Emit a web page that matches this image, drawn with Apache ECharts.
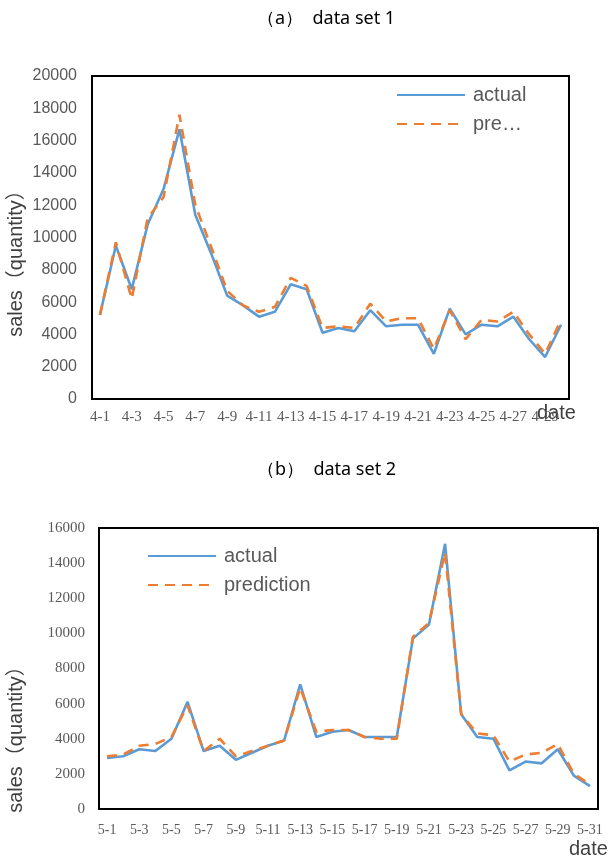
<!DOCTYPE html>
<html>
<head>
<meta charset="utf-8">
<script src="https://cdn.jsdelivr.net/npm/echarts@6/dist/echarts.min.js"></script>
<style>
  html, body { margin: 0; padding: 0; background: #fff; }
  #main { width: 616px; height: 856px; }
</style>
</head>
<body>
<div id="main"></div>
<script>
// data set 1 (April)
var daysA = [];
for (var i = 1; i <= 30; i++) daysA.push('4-' + i);
var actualA = [5200, 9500, 6800, 10800, 13000, 16700, 11400, 9000, 6400, 5800,
  5100, 5400, 7100, 6800, 4100, 4400, 4200, 5500, 4500, 4600,
  4600, 2800, 5600, 4000, 4600, 4500, 5100, 3700, 2600, 4600];
var predA = [5200, 9700, 6200, 11200, 12500, 17600, 12000, 9400, 6700, 5800,
  5400, 5700, 7500, 7000, 4400, 4500, 4400, 5900, 4800, 5000,
  5000, 3100, 5500, 3700, 4900, 4800, 5400, 4000, 2800, 4900];

// data set 2 (May)
var daysB = [];
for (var j = 1; j <= 31; j++) daysB.push('5-' + j);
var actualB = [2900, 3000, 3400, 3300, 4000, 6100, 3300, 3600, 2800, 3200,
  3600, 3900, 7100, 4100, 4400, 4500, 4100, 4100, 4100, 9700,
  10500, 15100, 5400, 4100, 4000, 2200, 2700, 2600, 3400, 1900, 1300];
var predB = [3000, 3100, 3600, 3700, 4100, 5900, 3300, 4000, 3000, 3300,
  3600, 3900, 6900, 4400, 4500, 4500, 4100, 4000, 4000, 9800,
  10600, 14600, 5400, 4300, 4200, 2700, 3100, 3200, 3700, 2000, 1400];

var blue = '#5B9BD5', orange = '#ED7D31', grey = '#595959';
var sans = 'Liberation Sans, Arial, Noto Sans CJK SC';
var serif = 'Liberation Serif, Times New Roman, serif';

var chart = echarts.init(document.getElementById('main'));

function lineSeries(name, data, idx, dashed) {
  return {
    name: name, type: 'line', data: data,
    xAxisIndex: idx, yAxisIndex: idx,
    symbol: 'none', smooth: false,
    lineStyle: { color: dashed ? orange : blue, width: 2.6, type: dashed ? [10, 7] : 'solid' },
    itemStyle: { color: dashed ? orange : blue },
    emphasis: { disabled: true }
  };
}

function plain(v) { return String(v); }

var option = {
  animation: false,
  title: [
    { text: '（a）  data set 1', left: 257, top: 10, padding: 0,
      textStyle: { fontSize: 18, fontWeight: 'normal', color: '#000', fontFamily: 'Noto Sans' } },
    { text: '（b）  data set 2', left: 257, top: 461, padding: 0,
      textStyle: { fontSize: 18, fontWeight: 'normal', color: '#000', fontFamily: 'Noto Sans' } }
  ],
  legend: [
    { data: ['actual', 'prediction'], orient: 'vertical', left: 396, top: 85, padding: 0,
      itemWidth: 68, itemHeight: 14, itemGap: 9, selectedMode: false,
      itemStyle: { opacity: 0 },
      textStyle: { fontSize: 20, color: grey, fontFamily: sans, width: 56, overflow: 'truncate', ellipsis: '…', padding: [0, 0, 0, 3] } },
    { data: ['actual', 'prediction'], orient: 'vertical', left: 147, top: 546, padding: 0,
      itemWidth: 68, itemHeight: 14, itemGap: 9, selectedMode: false,
      itemStyle: { opacity: 0 },
      textStyle: { fontSize: 20, color: grey, fontFamily: sans, padding: [0, 0, 0, 3] } }
  ],
  grid: [
    { left: 92, top: 76, width: 477, height: 323, outerBoundsMode: 'none', containLabel: false,
      show: true, borderColor: '#000', borderWidth: 2, backgroundColor: 'transparent' },
    { left: 99, top: 528, width: 499, height: 281, outerBoundsMode: 'none', containLabel: false,
      show: true, borderColor: '#000', borderWidth: 2, backgroundColor: 'transparent' }
  ],
  xAxis: [
    { type: 'category', gridIndex: 0, data: daysA, boundaryGap: true,
      axisLine: { show: false }, axisTick: { show: false },
      axisLabel: { interval: 1, margin: 11, fontSize: 15, color: grey, fontFamily: serif },
      name: 'date', nameLocation: 'end', nameGap: -32, nameMoveOverlap: false,
      nameTextStyle: { fontSize: 20, color: '#404040', fontFamily: sans, verticalAlign: 'top', lineHeight: 28 } },
    { type: 'category', gridIndex: 1, data: daysB, boundaryGap: true,
      axisLine: { show: false }, axisTick: { show: false },
      axisLabel: { interval: 1, margin: 14, fontSize: 14, color: grey, fontFamily: serif },
      name: 'date', nameLocation: 'end', nameGap: -29, nameMoveOverlap: false,
      nameTextStyle: { fontSize: 20, color: '#404040', fontFamily: sans, verticalAlign: 'top', lineHeight: 80 } }
  ],
  yAxis: [
    { type: 'value', gridIndex: 0, min: 0, max: 20000, interval: 2000,
      splitLine: { show: false }, axisLine: { show: false }, axisTick: { show: false },
      axisLabel: { margin: 15, fontSize: 16, color: grey, fontFamily: sans, formatter: plain },
      name: 'sales（quantity）', nameLocation: 'middle', nameGap: 66, nameMoveOverlap: false,
      nameTextStyle: { fontSize: 20, color: '#404040', fontFamily: sans, padding: [0, 42, 0, 0] } },
    { type: 'value', gridIndex: 1, min: 0, max: 16000, interval: 2000,
      splitLine: { show: false }, axisLine: { show: false }, axisTick: { show: false },
      axisLabel: { margin: 14, fontSize: 15, color: grey, fontFamily: serif, formatter: plain },
      name: 'sales（quantity）', nameLocation: 'middle', nameGap: 73, nameMoveOverlap: false,
      nameTextStyle: { fontSize: 20, color: '#404040', fontFamily: sans, padding: [0, 132, 0, 0] } }
  ],
  series: [
    lineSeries('actual', actualA, 0, false),
    lineSeries('prediction', predA, 0, true),
    lineSeries('actual', actualB, 1, false),
    lineSeries('prediction', predB, 1, true)
  ]
};
chart.setOption(option);
</script>
</body>
</html>
